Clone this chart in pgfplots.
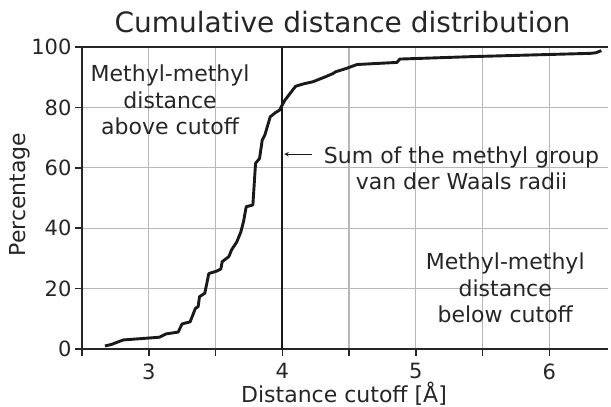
\documentclass[border=0pt]{standalone}
\usepackage{fontspec}
\setmainfont{DejaVu Sans}
\usepackage{pgfplots}
\pgfplotsset{compat=1.18}
\begin{document}
\begin{tikzpicture}
\path[use as bounding box] (-82pt,-58pt) rectangle (529pt,349pt);
\begin{axis}[at={(0pt,0pt)}, anchor=south west, scale only axis,
  width=526pt, height=302pt,
  xmin=2.5, xmax=6.44, ymin=0, ymax=100,
  xtick={2.5,3,3.5,4,4.5,5,5.5,6}, xticklabels={,3,,4,,5,,6},
  ytick={0,20,40,60,80,100},
  grid=major, major grid style={color=black!28, line width=1.1pt},
  axis lines*=left, axis line style={-, line width=1.6pt, color=black!85},
  tick align=outside, major tick length=7pt,
  tick style={line width=1.5pt, color=black!85},
  xtick pos=lower, ytick pos=left,
  /pgf/number format/assume math mode=true,
  ticklabel style={font=\fontsize{21}{25}\selectfont, text=black!85},
  xticklabel style={yshift=-4pt},
  clip=false,
]
\draw[line width=1.6pt, color=black!85] (rel axis cs:0,1) -- (rel axis cs:1,1);
\addplot[black!90, line width=2.9pt, line join=round] coordinates {
(2.672,1.0) (2.72,1.5) (2.785,2.6) (2.81,3.0) (3.08,3.9) (3.13,5.0) (3.22,5.6)
(3.25,8.3) (3.31,9.0) (3.35,13.5) (3.37,14.0) (3.38,17.3) (3.42,18.5) (3.45,25.0)
(3.51,25.8) (3.54,26.5) (3.55,28.9) (3.60,30.6) (3.62,32.8) (3.66,35.5) (3.69,38.8)
(3.71,42.2) (3.73,47.1) (3.78,47.7) (3.80,61.5) (3.83,63.1) (3.85,69.2) (3.87,70.9)
(3.91,76.9) (3.95,78.3) (3.98,79.1) (4.00,80.8) (4.02,82.4) (4.06,84.7) (4.10,87.0)
(4.16,87.8) (4.23,88.5) (4.31,89.9) (4.38,91.2) (4.40,91.8) (4.48,92.9) (4.56,94.2)
(4.86,94.9) (4.88,96.0) (5.41,96.8) (6.31,97.9) (6.35,98.1) (6.39,98.8)
};
\draw[line width=1.7pt, color=black!90] (axis cs:4,0) -- (axis cs:4,100);
\draw[-stealth, line width=1pt, color=black!90] (axis cs:4.22,64.5) -- (axis cs:4.015,64.5);
\node[align=center, font=\fontsize{22}{26.5}\selectfont, text=black!85] at (axis cs:3.16,82.4) {Methyl-methyl\\distance\\above cutoff};
\node[align=center, font=\fontsize{22}{26.5}\selectfont, text=black!85] at (axis cs:5.343,59.9) {Sum of the methyl group\\van der Waals radii};
\node[align=center, font=\fontsize{22}{26.5}\selectfont, text=black!85] at (axis cs:5.67,20.2) {Methyl-methyl\\distance\\below cutoff};
\end{axis}
\node[anchor=base, font=\fontsize{28}{33}\selectfont, text=black!85] at (260.5pt,316pt) {Cumulative distance distribution};
\node[anchor=base, font=\fontsize{22}{26}\selectfont, text=black!85] at (262pt,-53pt) {Distance cutoff [Å]};
\node[rotate=90, font=\fontsize{22}{26}\selectfont, text=black!85] at (-62pt,154.5pt) {Percentage};
\end{tikzpicture}
\end{document}
